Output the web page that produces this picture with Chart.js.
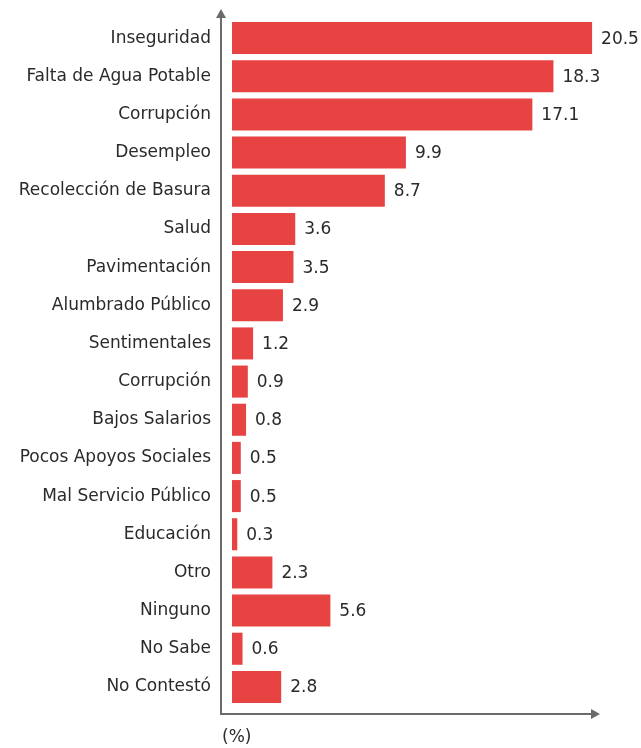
<!DOCTYPE html>
<html>
<head>
<meta charset="utf-8">
<script src="https://cdn.jsdelivr.net/npm/chart.js@4/dist/chart.umd.min.js"></script>
<style>
html,body{margin:0;padding:0;background:#fff;}
#wrap{width:641px;height:748px;position:relative;}
</style>
</head>
<body>
<div id="wrap"><canvas id="c" width="641" height="748"></canvas></div>
<script>
const categories = ["Inseguridad","Falta de Agua Potable","Corrupción","Desempleo","Recolección de Basura","Salud","Pavimentación","Alumbrado Público","Sentimentales","Corrupción","Bajos Salarios","Pocos Apoyos Sociales","Mal Servicio Público","Educación","Otro","Ninguno","No Sabe","No Contestó"];
const values = [20.5,18.3,17.1,9.9,8.7,3.6,3.5,2.9,1.2,0.9,0.8,0.5,0.5,0.3,2.3,5.6,0.6,2.8];
const valueLabels = ["20.5","18.3","17.1","9.9","8.7","3.6","3.5","2.9","1.2","0.9","0.8","0.5","0.5","0.3","2.3","5.6","0.6","2.8"];
const unitLabel = "(%)";

const FONT = "'DejaVu Sans', sans-serif";
const TEXT_COLOR = '#2a2a2a';
const AXIS_COLOR = '#6b6b6b';

const decor = {
  id: 'decor',
  afterDatasetsDraw(chart) {
    const ctx = chart.ctx;
    const meta = chart.getDatasetMeta(0);
    ctx.save();
    ctx.font = '17px ' + FONT;
    ctx.fillStyle = TEXT_COLOR;
    ctx.textAlign = 'left';
    ctx.textBaseline = 'middle';
    meta.data.forEach((bar, i) => {
      ctx.fillText(valueLabels[i], bar.x + 9, bar.y + 1);
    });
    const ax = chart.chartArea.left - 11;
    const ay = 714;
    ctx.strokeStyle = AXIS_COLOR;
    ctx.fillStyle = AXIS_COLOR;
    ctx.lineWidth = 2;
    ctx.beginPath();
    ctx.moveTo(ax, ay);
    ctx.lineTo(ax, 16);
    ctx.moveTo(ax - 1, ay);
    ctx.lineTo(592, ay);
    ctx.stroke();
    ctx.beginPath();
    ctx.moveTo(ax, 9);
    ctx.lineTo(ax - 5, 18);
    ctx.lineTo(ax + 5, 18);
    ctx.closePath();
    ctx.fill();
    ctx.beginPath();
    ctx.moveTo(600, ay);
    ctx.lineTo(591, ay - 5);
    ctx.lineTo(591, ay + 5);
    ctx.closePath();
    ctx.fill();
    ctx.fillStyle = TEXT_COLOR;
    ctx.font = '17px ' + FONT;
    ctx.textBaseline = 'middle';
    ctx.fillText(unitLabel, 222, 738);
    ctx.restore();
  }
};

new Chart(document.getElementById('c'), {
  type: 'bar',
  data: {
    labels: categories,
    datasets: [{
      data: values,
      backgroundColor: '#e84343',
      borderWidth: 0,
      categoryPercentage: 0.84,
      barPercentage: 1.0
    }]
  },
  options: {
    indexAxis: 'y',
    responsive: false,
    animation: false,
    devicePixelRatio: 1,
    layout: { padding: { top: 19, bottom: 42, left: 0, right: 5 } },
    plugins: { legend: { display: false }, tooltip: { enabled: false } },
    scales: {
      x: {
        display: false,
        min: 0,
        max: 23.0
      },
      y: {
        afterFit(scale) { scale.width = 232; scale.paddingTop = 0; scale.paddingBottom = 0; },
        grid: { display: false, drawTicks: false },
        border: { display: false },
        ticks: {
          padding: 21,
          color: TEXT_COLOR,
          font: { family: FONT, size: 17 }
        }
      }
    }
  },
  plugins: [decor]
});
</script>
</body>
</html>
